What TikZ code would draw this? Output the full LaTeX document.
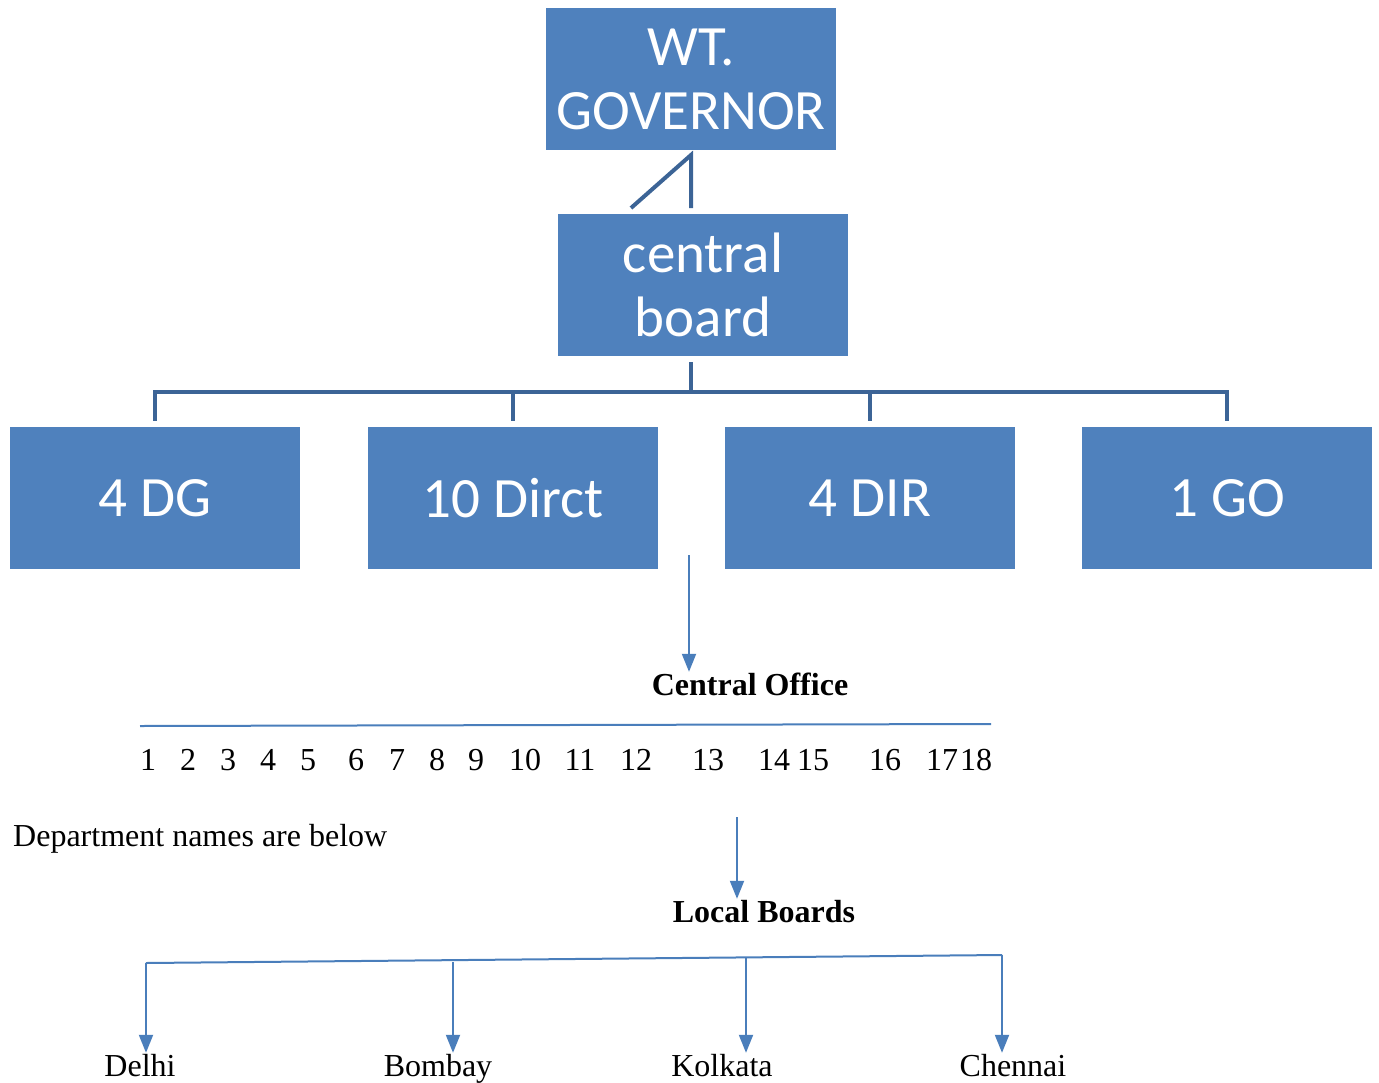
\documentclass[tikz,border=0pt]{standalone}
\usepackage{fontspec}
\setmainfont{Liberation Serif}
\newfontfamily\boxfont{Carlito}
\usetikzlibrary{arrows.meta}
\definecolor{boxblue}{HTML}{4F81BD}
\definecolor{linkblue}{HTML}{3C6496}
\definecolor{arrowblue}{HTML}{4A7EBB}
\tikzset{
  orgbox/.style={fill=boxblue, text=white, minimum width=290pt, minimum height=142pt,
    align=center, inner sep=0pt, font=\boxfont\fontsize{57}{64}\selectfont},
  link/.style={draw=linkblue, line width=4pt},
  flow/.style={draw=arrowblue, line width=2pt},
  flowarrow/.style={flow, -{Triangle[width=14pt,length=18pt]}},
  txt/.style={inner sep=1pt, anchor=base, text height=22pt, text depth=7pt,
    font=\fontsize{32}{36}\selectfont},
  boldtxt/.style={txt, font=\fontsize{32}{36}\selectfont\bfseries}
}
\begin{document}
\begin{tikzpicture}[x=1pt, y=-1pt]
    \useasboundingbox (0,0) rectangle (1379,1082);

    % Boxes
    \node[orgbox] (gov) at (691,79) {WT.\\GOVERNOR};
    \node[orgbox] (board) at (703,285) {central\\board};
    \node[orgbox] (dg) at (155,498) {4 DG};
    \node[orgbox] (dirct) at (513,498) {10 Dirct};
    \node[orgbox] (dir) at (870,498) {4 DIR};
    \node[orgbox] (go) at (1227,498) {1 GO};

    % Governor to board
    \coordinate (tip) at (691,155);
    \coordinate (foot) at (691,208);
    \coordinate (slant) at (631,208);
    \draw[link] (slant) -- (tip) -- (foot);

    % Board to the four groups
    \coordinate (hub) at (691,362);
    \draw[link] (hub) -- ++(0,30);
    \draw[link] ([yshift=6pt]dg.north) -- ++(0,-29) -| ([yshift=6pt]go.north);
    \draw[link] ([yshift=6pt]dirct.north) -- ++(0,-29);
    \draw[link] ([yshift=6pt]dir.north) -- ++(0,-29);

    % Central office and departments
    \coordinate (drop) at (689,555);
    \node[boldtxt] (office) at (750,695) {Central Office};
    \draw[flowarrow] (drop) -- (drop |- office.north);

    \coordinate (rulel) at (140,726);
    \coordinate (ruler) at (991,724);
    \draw[flow] (rulel) -- (ruler);
    \foreach \n/\x in {1/148, 2/188, 3/228, 4/268, 5/308, 6/356, 7/397, 8/437, 9/476,
        10/525, 11/580, 12/636, 13/708, 14/774, 15/813, 16/885, 17/942, 18/976}
        \node[txt] (n\n) at (\x,770) {\n};

    \node[txt, anchor=base west] (dept) at (12,846) {Department names are below};

    % Local boards
    \coordinate (drop2) at (737,817);
    \node[boldtxt] (localb) at (764,922) {Local Boards};
    \draw[flowarrow] (drop2) -- (drop2 |- localb.north);

    \coordinate (b1) at (146,963);
    \coordinate (b2) at (453,962);
    \coordinate (b3) at (746,958);
    \coordinate (b4) at (1002,955);
    \draw[flow] (b1) -- (b4);

    \node[txt] (delhi) at (140,1076) {Delhi};
    \node[txt] (bombay) at (438,1076) {Bombay};
    \node[txt] (kolkata) at (722,1076) {Kolkata};
    \node[txt] (chennai) at (1013,1076) {Chennai};
    \draw[flowarrow] (b1) -- (b1 |- delhi.north);
    \draw[flowarrow] (b2) -- (b2 |- bombay.north);
    \draw[flowarrow] (b3) -- (b3 |- kolkata.north);
    \draw[flowarrow] (b4) -- (b4 |- chennai.north);
\end{tikzpicture}
\end{document}
